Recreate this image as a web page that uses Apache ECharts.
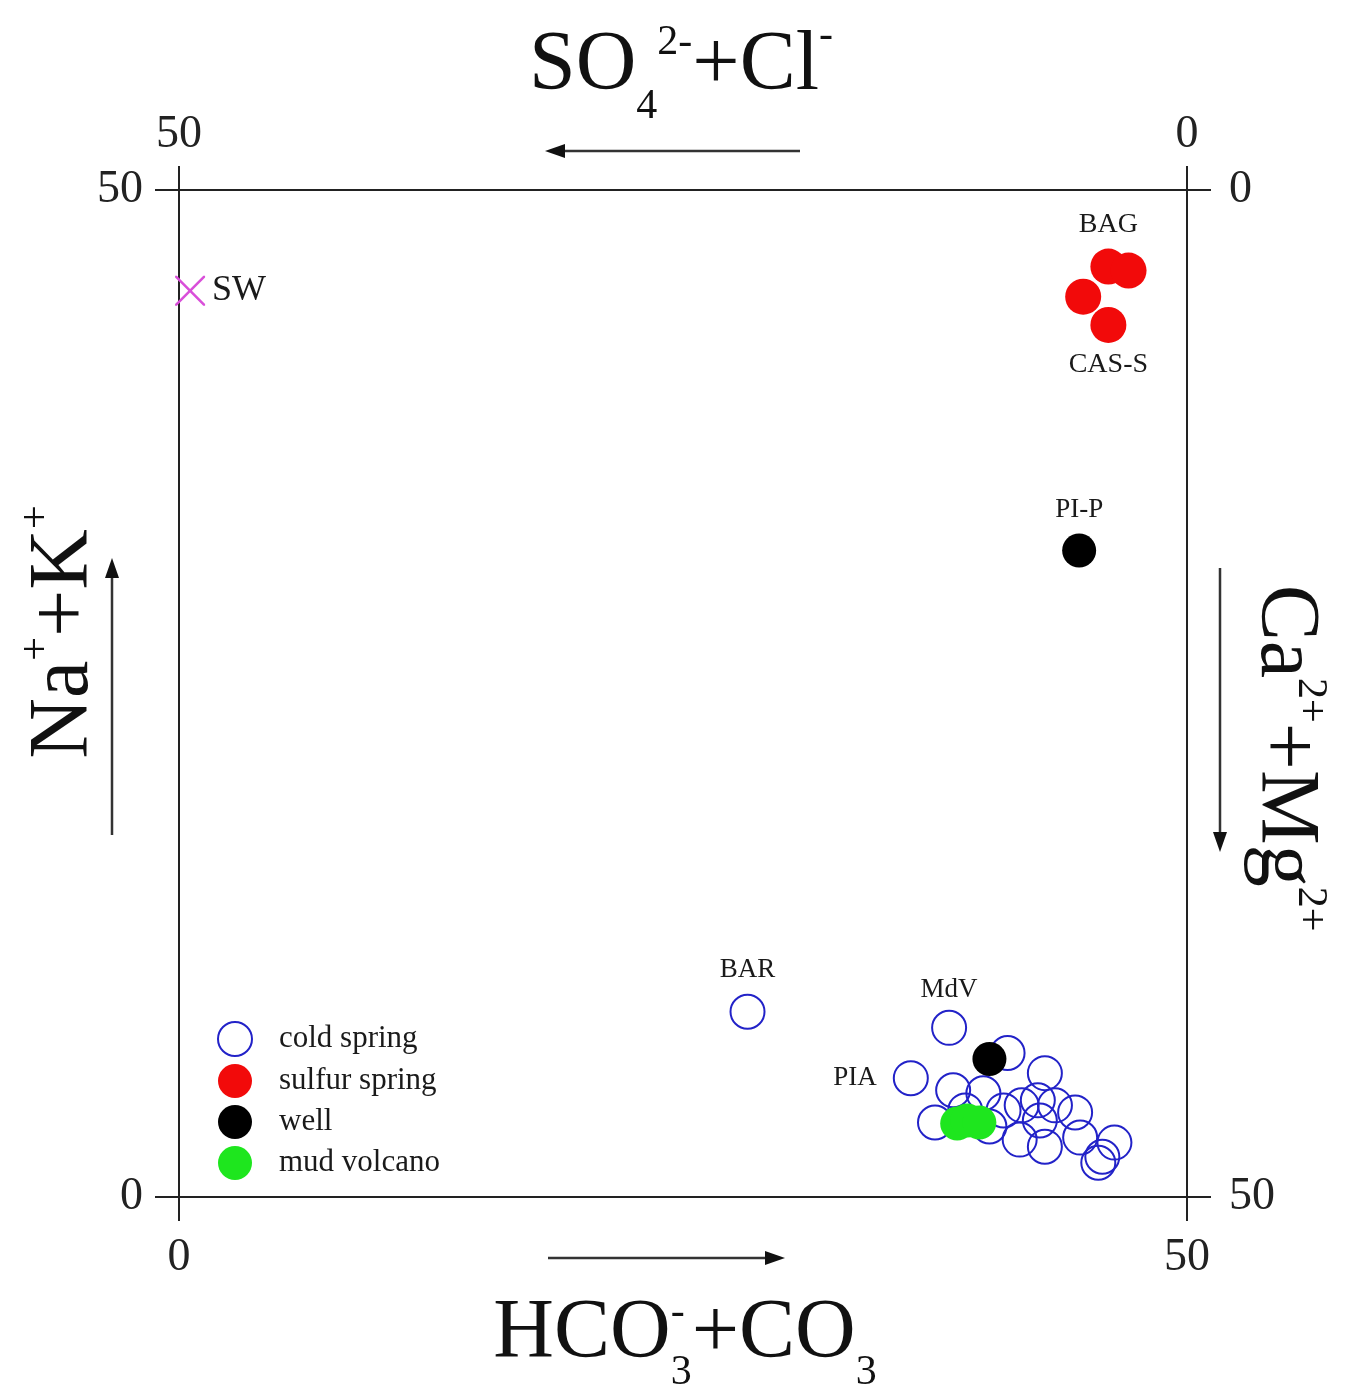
<!DOCTYPE html>
<html>
<head>
<meta charset="utf-8">
<script src="https://cdn.jsdelivr.net/npm/echarts@6/dist/echarts.min.js"></script>
<style>
  html, body { margin: 0; padding: 0; background: #fff; }
  #chart { width: 1356px; height: 1390px; }
</style>
</head>
<body>
<div id="chart"></div>
<script>
// Langelier–Ludwig diagram: x = HCO3- + CO3 (%), y = Na+ + K+ (%)
const xTicks = [0, 50];
const yTicks = [0, 50];

// [x, y, label]
const coldSpring = [
  [28.2, 9.2, 'BAR'],
  [38.2, 8.4, 'MdV'],
  [36.3, 5.9, 'PIA'],
  [41.1, 7.15, ''],
  [42.95, 6.15, ''],
  [38.4, 5.3, ''],
  [39.9, 5.15, ''],
  [37.5, 3.7, ''],
  [40.2, 3.5, ''],
  [40.9, 4.3, ''],
  [41.8, 4.55, ''],
  [42.6, 4.8, ''],
  [43.45, 4.55, ''],
  [44.45, 4.2, ''],
  [41.7, 2.85, ''],
  [42.95, 2.5, ''],
  [44.7, 2.95, ''],
  [46.4, 2.7, ''],
  [45.8, 2.0, ''],
  [45.6, 1.7, ''],
  [42.7, 3.8, ''],
  [39.0, 4.3, '']
];
const sulfurSpring = [
  [46.1, 46.2, 'BAG'],
  [47.1, 46.0, ''],
  [44.85, 44.7, ''],
  [46.1, 43.3, 'CAS-S']
];
const well = [
  [40.2, 6.85, ''],
  [44.65, 32.1, 'PI-P']
];
const mudVolcano = [
  [38.6, 3.65, ''],
  [39.1, 3.8, ''],
  [39.7, 3.7, '']
];
const seaWater = [
  [0.55, 45.0, 'SW']
];

const SERIF = '"Liberation Serif", "DejaVu Serif", serif';
const labelPos = { 'BAR': ['top', 10], 'MdV': ['top', 6], 'PIA': ['left', 16],
  'BAG': ['top', 10], 'CAS-S': ['bottom', 8], 'PI-P': ['top', 10], 'SW': ['right', 7] };

function toData(rows, fontSize) {
  return rows.map(r => {
    const item = { value: [r[0], r[1]] };
    if (r[2]) {
      const p = labelPos[r[2]];
      item.label = { show: true, formatter: r[2], position: p[0], distance: p[1],
        fontFamily: SERIF, fontSize: fontSize || 28, color: '#1a1a1a', opacity: 1 };
    }
    return item;
  });
}

// chemical formula text built from pieces (normal / sub / superscript)
const mctx = document.createElement('canvas').getContext('2d');
function textWidth(t, s) {
  mctx.font = s + 'px ' + SERIF;
  return mctx.measureText(t).width;
}
function formula(pieces, cx, baseline, rotation) {
  let cursor = 0, prevStart = 0;
  const laid = [];
  pieces.forEach(p => {
    const x = p.stack ? prevStart : cursor;
    const w = textWidth(p.t, p.s);
    laid.push({ p, x });
    prevStart = x;
    cursor = Math.max(cursor, x + w);
  });
  const half = cursor / 2;
  return {
    type: 'group', x: cx, y: baseline, rotation: rotation || 0,
    children: laid.map(o => ({
      type: 'text', x: o.x - half, y: (o.p.dy || 0) - 0.3 * o.p.s,
      style: { text: o.p.t, font: o.p.s + 'px ' + SERIF, fill: '#111',
        align: 'left', verticalAlign: 'middle' }
    }))
  };
}
function arrow(x1, y1, x2, y2) {
  const dx = x2 - x1, dy = y2 - y1, len = Math.hypot(dx, dy);
  const ux = dx / len, uy = dy / len, hl = 20, hw = 7;
  const bx = x2 - ux * hl, by = y2 - uy * hl;
  return [
    { type: 'polyline', shape: { points: [[x1, y1], [bx, by]] },
      style: { stroke: '#333', lineWidth: 2.5 } },
    { type: 'polygon', shape: { points: [[x2, y2], [bx - uy * hw, by + ux * hw], [bx + uy * hw, by - ux * hw]] },
      style: { fill: '#111' } }
  ];
}

const MAIN = 84, SMALL = 42;
const graphics = [
  formula([{ t: 'SO', s: MAIN }, { t: '4', s: SMALL, dy: 28 }, { t: '2-', s: SMALL, dy: -36 },
           { t: '+Cl', s: MAIN }, { t: '-', s: SMALL, dy: -43 }], 681, 92, 0),
  formula([{ t: 'HCO', s: MAIN }, { t: '3', s: SMALL, dy: 26 }, { t: '-', s: SMALL, dy: -34, stack: true },
           { t: '+CO', s: MAIN }, { t: '3', s: SMALL, dy: 26 }], 685, 1360, 0),
  formula([{ t: 'Na', s: MAIN }, { t: '+', s: SMALL, dy: -40 }, { t: '+K', s: MAIN },
           { t: '+', s: SMALL, dy: -40 }], 90, 632, Math.PI / 2),
  formula([{ t: 'Ca', s: MAIN }, { t: '2+', s: SMALL, dy: -38 }, { t: '+Mg', s: MAIN },
           { t: '2+', s: SMALL, dy: -38 }], 1259, 758, -Math.PI / 2),
  ...arrow(800, 151, 545, 151),
  ...arrow(548, 1258, 785, 1258),
  ...arrow(112, 835, 112, 558),
  ...arrow(1220, 568, 1220, 852)
];

const axisCommon = {
  min: 0, max: 50,
  axisLine: { show: true, lineStyle: { color: '#222', width: 2 } },
  axisTick: { show: true, inside: false, length: 24, lineStyle: { color: '#222', width: 2 } },
  axisLabel: { fontFamily: SERIF, fontSize: 46, color: '#222', margin: 40 }
};

const chart = echarts.init(document.getElementById('chart'), null, { renderer: 'canvas' });
chart.setOption({
  animation: false,
  backgroundColor: '#fff',
  grid: { left: 179, right: 169, top: 190, bottom: 193, containLabel: false },
  xAxis: [
    Object.assign({}, axisCommon, { type: 'value', position: 'bottom', interval: 25,
      axisTick: Object.assign({}, axisCommon.axisTick, { customValues: xTicks }),
      axisLabel: Object.assign({}, axisCommon.axisLabel, { customValues: xTicks, margin: 38 }),
      splitLine: { show: true, lineStyle: { color: '#222', width: 1.5 } } }),
    Object.assign({}, axisCommon, { type: 'value', position: 'top', inverse: true, interval: 50,
      axisLabel: Object.assign({}, axisCommon.axisLabel, { margin: 32 }),
      splitLine: { show: false } })
  ],
  yAxis: [
    Object.assign({}, axisCommon, { type: 'value', position: 'left', interval: 25,
      axisTick: Object.assign({}, axisCommon.axisTick, { customValues: yTicks }),
      axisLabel: Object.assign({}, axisCommon.axisLabel, { customValues: yTicks, margin: 36 }),
      splitLine: { show: true, lineStyle: { color: '#222', width: 1.5 } } }),
    Object.assign({}, axisCommon, { type: 'value', position: 'right', inverse: true, interval: 50,
      axisLabel: Object.assign({}, axisCommon.axisLabel, { margin: 42 }),
      splitLine: { show: false } })
  ],
  legend: {
    orient: 'vertical', left: 217, top: 1021, padding: 0, itemWidth: 34, itemHeight: 34, itemGap: 7,
    data: ['cold spring', 'sulfur spring', 'well', 'mud volcano'],
    textStyle: { fontFamily: SERIF, fontSize: 31, color: '#1a1a1a', padding: [0, 0, 0, 22] }
  },
  graphic: graphics,
  series: [
    { name: 'cold spring', type: 'scatter', symbol: 'circle', symbolSize: 34,
      itemStyle: { color: 'rgba(255,255,255,0)', borderColor: '#2222c8', borderWidth: 2, opacity: 1 },
      data: toData(coldSpring, 27), z: 2 },
    { name: 'sulfur spring', type: 'scatter', symbol: 'circle', symbolSize: 36,
      itemStyle: { color: '#f20a0a', opacity: 1 }, data: toData(sulfurSpring, 28), z: 3 },
    { name: 'well', type: 'scatter', symbol: 'circle', symbolSize: 34,
      itemStyle: { color: '#000', opacity: 1 }, data: toData(well, 27), z: 4 },
    { name: 'mud volcano', type: 'scatter', symbol: 'circle', symbolSize: 34,
      itemStyle: { color: '#1ee61e', opacity: 1 }, data: toData(mudVolcano), z: 4 },
    { name: 'SW', type: 'scatter', clip: false,
      symbol: 'path://M0,0L1.2,0L10,8.8L18.8,0L20,0L20,1.2L11.2,10L20,18.8L20,20L18.8,20L10,11.2L1.2,20L0,20L0,18.8L8.8,10L0,1.2Z',
      symbolSize: 30, itemStyle: { color: '#d94fd9', opacity: 1 }, data: toData(seaWater, 36), z: 5 }
  ]
});
</script>
</body>
</html>
